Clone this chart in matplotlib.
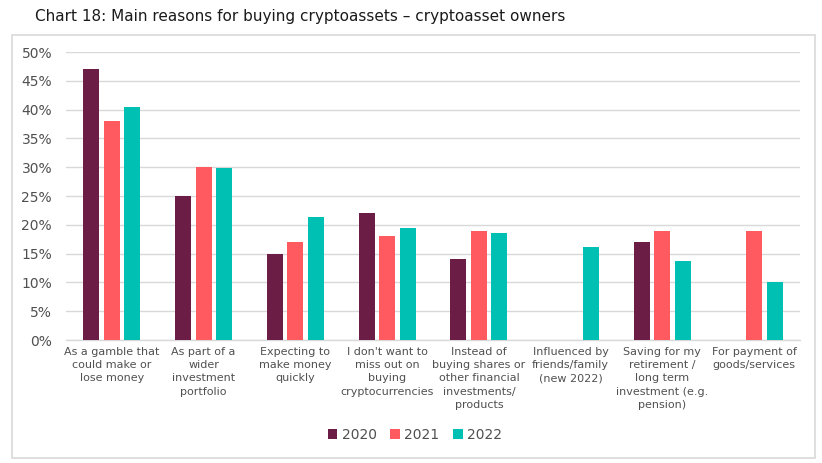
#!/usr/bin/env python3
"""Chart 18: main reasons for buying cryptoassets (grouped bars, 2020-2022)."""
import numpy as np
import matplotlib
matplotlib.use("Agg")
import matplotlib.pyplot as plt
from matplotlib.patches import Rectangle

# Data (percent of cryptoasset owners), None = not asked that year
categories = [
    "As a gamble that\ncould make or\nlose money",
    "As part of a\nwider\ninvestment\nportfolio",
    "Expecting to\nmake money\nquickly",
    "I don't want to\nmiss out on\nbuying\ncryptocurrencies",
    "Instead of\nbuying shares or\nother financial\ninvestments/\nproducts",
    "Influenced by\nfriends/family\n(new 2022)",
    "Saving for my\nretirement /\nlong term\ninvestment (e.g.\npension)",
    "For payment of\ngoods/services",
]
years = ["2020", "2021", "2022"]
vals_2020 = [47.0, 25.0, 15.0, 22.0, 14.0, None, 17.0, None]
vals_2021 = [38.0, 30.0, 17.0, 18.0, 19.0, None, 19.0, 19.0]
vals_2022 = [40.4, 29.8, 21.3, 19.4, 18.6, 16.1, 13.7, 10.1]
y_ticks = [0, 5, 10, 15, 20, 25, 30, 35, 40, 45, 50]

colors = ["#6B1D45", "#FF5A5F", "#00BFB3"]
TXT = "#505050"

fig = plt.figure(figsize=(8.22, 4.63), dpi=100)
fig.patch.set_facecolor("white")

# outer chart frame
fig.patches.append(Rectangle((12 / 822, 1 - 458 / 463), 803 / 822, 423 / 463,
                             transform=fig.transFigure, fill=False,
                             edgecolor="#D9D9D9", linewidth=1.2))

fig.text(35 / 822, 1 - 16 / 463,
         "Chart 18: Main reasons for buying cryptoassets \u2013 cryptoasset owners",
         fontsize=11, color="#1a1a1a", ha="left", va="center")

ax = fig.add_axes([66 / 822, 1 - 340 / 463, 734 / 822, 288 / 463])

x = np.arange(len(categories))
width = 0.175
step = 0.223
for i, (year, vals) in enumerate(zip(years, [vals_2020, vals_2021, vals_2022])):
    v = np.array([np.nan if a is None else a for a in vals], dtype=float)
    ax.bar(x + (i - 1) * step, v, width, color=colors[i], label=year, zorder=3)

ax.set_xlim(-0.5, len(categories) - 0.5)
ax.set_ylim(0, 50)
ax.set_yticks(y_ticks)
ax.set_yticklabels([f"{t}%" for t in y_ticks])
ax.yaxis.grid(True, color="#D9D9D9", linewidth=1, zorder=0)
ax.set_axisbelow(True)

ax.set_xticks(x)
ax.set_xticklabels(categories, fontsize=8, color=TXT, linespacing=1.4)
ax.tick_params(axis="x", length=0, pad=5)
ax.tick_params(axis="y", length=0, pad=10, labelsize=10, labelcolor=TXT)

for s in ["top", "right", "left"]:
    ax.spines[s].set_visible(False)
ax.spines["bottom"].set_color("#D9D9D9")
ax.spines["bottom"].set_linewidth(1)

fig.legend(loc="center", bbox_to_anchor=(415 / 822, 1 - 435 / 463), ncol=3,
           frameon=False, fontsize=10, handlelength=0.7, handleheight=0.7,
           handletextpad=0.3, columnspacing=1.0, labelcolor=TXT)

fig.savefig("out.png", dpi=100)
